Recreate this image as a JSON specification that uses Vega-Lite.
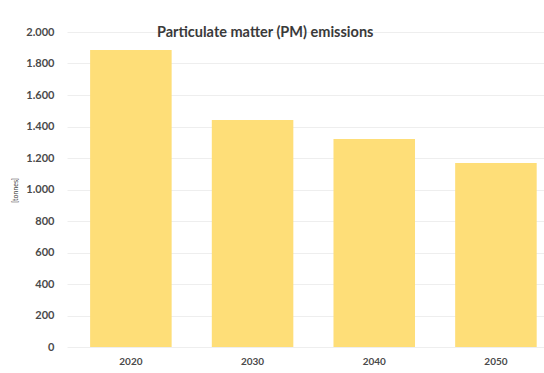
{
  "$schema": "https://vega.github.io/schema/vega-lite/v6.json",
  "autosize": "none",
  "width": 477,
  "height": 315,
  "padding": {"left": 67, "top": 32, "right": 0, "bottom": 26},
  "background": "white",
  "title": {
    "text": "Particulate matter (PM) emissions",
    "anchor": "start",
    "frame": "group",
    "dx": 90,
    "offset": 0,
    "dy": 21,
    "baseline": "middle",
    "font": "Lato",
    "fontSize": 14.5,
    "fontWeight": "bold",
    "color": "#3a3a3a"
  },
  "data": {
    "values": [
      {"year": "2020", "pm": 1886},
      {"year": "2030", "pm": 1441},
      {"year": "2040", "pm": 1321},
      {"year": "2050", "pm": 1168}
    ]
  },
  "mark": {"type": "bar", "color": "#FEDE78"},
  "encoding": {
    "x": {
      "field": "year",
      "type": "ordinal",
      "scale": {"paddingInner": 0.33, "paddingOuter": 0.125, "align": 0.76},
      "axis": {
        "title": null,
        "labelAngle": 0,
        "domain": false,
        "ticks": false,
        "grid": false,
        "labelPadding": 9,
        "labelFont": "Lato",
        "labelFontSize": 10,
        "labelFontWeight": "bold",
        "labelColor": "#4a4a4a"
      }
    },
    "y": {
      "field": "pm",
      "type": "quantitative",
      "scale": {"domain": [0, 2000]},
      "axis": {
        "title": "[tonnes]",
        "titleFont": "Lato",
        "titleFontSize": 7,
        "titleFontWeight": "normal",
        "titleColor": "#444444",
        "titleAngle": -90,
        "titleX": -52,
        "titleY": 158,
        "titleAlign": "center",
        "titleBaseline": "middle",
        "values": [0, 200, 400, 600, 800, 1000, 1200, 1400, 1600, 1800, 2000],
        "labelExpr": "replace(format(datum.value, ','), ',', '.')",
        "domain": false,
        "ticks": false,
        "grid": true,
        "gridColor": "#eeeeee",
        "gridWidth": 1,
        "labelPadding": 13,
        "labelFont": "Lato",
        "labelFontSize": 11,
        "labelFontWeight": "bold",
        "labelColor": "#4a4a4a"
      }
    }
  },
  "config": {"view": {"stroke": null}}
}
